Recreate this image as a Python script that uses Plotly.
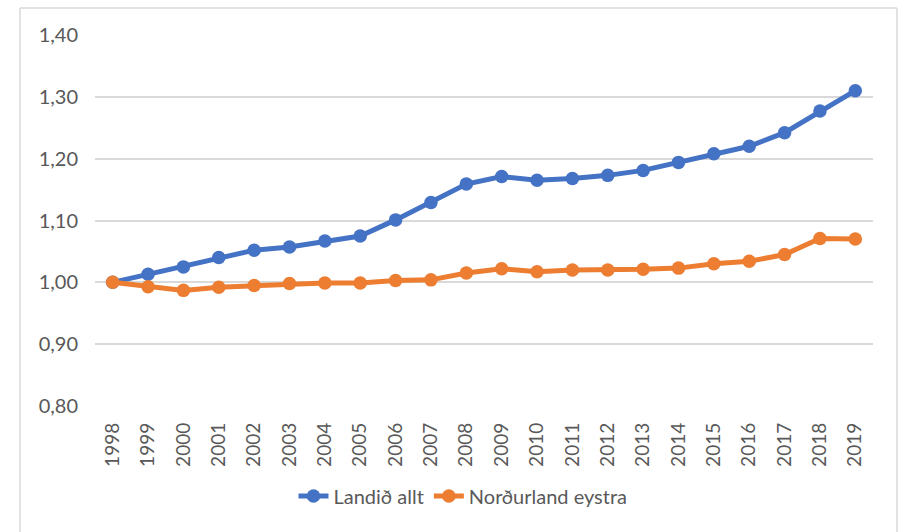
import plotly.graph_objects as go

years = [str(y) for y in range(1998, 2020)]
landid_allt = [1.000, 1.013, 1.025, 1.040, 1.052, 1.057, 1.067, 1.075, 1.101, 1.129, 1.159,
               1.171, 1.165, 1.168, 1.173, 1.181, 1.194, 1.208, 1.220, 1.242, 1.277, 1.310]
nordurland_eystra = [1.000, 0.993, 0.987, 0.992, 0.995, 0.998, 0.999, 0.999, 1.003, 1.004, 1.015,
                     1.022, 1.017, 1.020, 1.020, 1.021, 1.023, 1.030, 1.034, 1.045, 1.071, 1.070]
y_ticks = [0.8, 0.9, 1.0, 1.1, 1.2, 1.3, 1.4]

FONT = "Lato"
fig = go.Figure()
fig.add_trace(go.Scatter(x=years, y=landid_allt, name="Landið allt", mode="lines+markers",
                         line=dict(color="#4472C4", width=5),
                         marker=dict(color="#4472C4", size=13.5)))
fig.add_trace(go.Scatter(x=years, y=nordurland_eystra, name="Norðurland eystra", mode="lines+markers",
                         line=dict(color="#ED7D31", width=5),
                         marker=dict(color="#ED7D31", size=13.5)))

fig.update_layout(
    width=899, height=532,
    margin=dict(l=95, r=26, t=35, b=126, autoexpand=False),
    paper_bgcolor="white", plot_bgcolor="white",
    separators=",.",
    font=dict(family=FONT, color="#595959", size=20),
    showlegend=True,
    legend=dict(orientation="h", x=0.473, xanchor="center", y=-0.2426, yanchor="middle",
                font=dict(family=FONT, size=20, color="#595959"),
                bgcolor="rgba(0,0,0,0)"),
    xaxis=dict(type="category", range=[-0.5, len(years) - 0.5], tickangle=-90,
               showgrid=False, showline=False, ticks="",
               zeroline=False, tickfont=dict(size=19), ticklabelstandoff=12, automargin=False),
    yaxis=dict(range=[0.8, 1.4], tickvals=y_ticks, tickformat=".2f", showgrid=True,
               gridcolor="#d9d9d9", gridwidth=1.5, zeroline=False, showline=False, ticks="",
               ticklabelstandoff=16, tickfont=dict(size=20), automargin=False),
    shapes=[
        dict(type="line", xref="paper", yref="paper", x0=-0.0964, x1=-0.0964, y0=1.0728, y1=-0.4,
             line=dict(color="#d9d9d9", width=1.5)),
        dict(type="line", xref="paper", yref="paper", x0=-0.0964, x1=1.0308, y0=1.0728, y1=1.0728,
             line=dict(color="#d9d9d9", width=1.5)),
        dict(type="line", xref="paper", yref="paper", x0=1.0308, x1=1.0308, y0=1.0728, y1=-0.4,
             line=dict(color="#d9d9d9", width=1.5)),
    ],
)
fig.write_html("out.html", config={"displayModeBar": False},
               post_script="document.body.style.margin='0';document.body.style.padding='0';")
